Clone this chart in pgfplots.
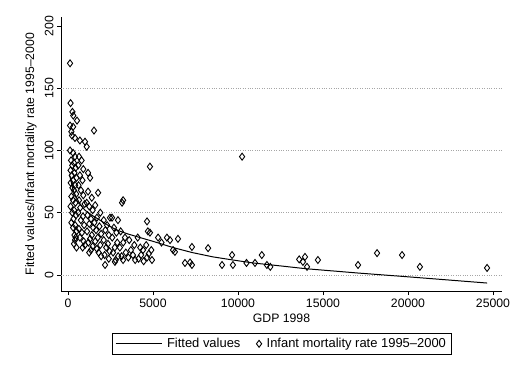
\documentclass[border=0pt]{standalone}
\usepackage{fontspec}
\setmainfont{Liberation Sans}
\usepackage{pgfplots}
\usepackage{pgfplotstable}
\pgfplotsset{compat=1.18}
\pgfplotsset{longline legend/.style={legend image code/.code={\draw[##1] (0bp,0bp) -- (46bp,0bp);}}}
\newcommand\sz{\fontsize{12.3}{14}\selectfont}
\newcommand\lsz{\fontsize{13}{15}\selectfont}
\pgfplotstableread{
gdp fit
100 80
300 68
500 62
750 56
1000 52
1400 48
1880 44
2400 39.5
2880 36
3500 33
4240 30
5000 27
6180 22
7300 18
8530 14.5
9700 12
10900 9.6
12000 8
14000 5
17000 1.6
20000 -1.5
24650 -6.5
}\fitted
\pgfplotstableread{
gdp imr
120 170
150 138
260 131
310 128
530 124
120 120
300 119
200 115
235 112
410 110
120 100
300 98
410 95
180 92
350 90
250 88
450 86
150 84
380 82
220 80
500 78
300 76
160 74
420 72
260 70
350 68
480 65
200 63
300 60
440 58
150 55
360 52
250 50
470 48
320 45
200 42
420 40
300 38
500 35
380 32
450 30
410 28
350 25
500 22
700 108
1000 107
650 95
800 92
600 88
900 85
700 80
850 76
620 72
760 68
900 64
650 60
980 57
720 54
600 50
880 47
760 44
950 40
640 37
820 34
700 30
920 27
1000 24
860 22
1100 103
1180 82
1300 78
1180 67
1400 62
1100 58
1250 55
1450 52
1150 48
1350 45
1250 41
1480 38
1120 35
1400 32
1300 29
1200 26
1450 23
1350 20
1250 18
1530 116
1770 66
1600 56
1900 50
1700 46
1550 42
1850 39
1650 36
1950 33
1750 30
1600 27
1900 24
1700 21
1800 18
1950 15
2470 46
2100 44
2300 40
2200 36
2400 32
2100 28
2350 25
2250 22
2450 19
2150 16
2400 13
2180 8
2940 44
2590 46
2700 38
2850 34
2600 30
2900 26
2750 22
2650 18
2950 15
2760 10.5
2800 12
3240 60
3180 58
3100 35
3350 30
3250 26
3050 22
3400 18
3150 15
3240 12
3600 28
3900 24
3700 20
3820 16
3550 14
3950 12
4100 30
4410 20
4250 22
4300 16
4150 13
4450 11
4820 87
4650 43
4700 35
4820 34
4600 24
4900 20
4750 17
4940 12
4650 14
5300 30
5820 30
6000 28
6470 29
5500 26
6180 20
6290 18.5
7290 22.5
8240 21.5
6880 9.6
7180 10
7290 8
9060 8
9700 8
9650 16
10240 95
10500 9.6
11000 9.6
11400 16
11700 8
11900 6.5
13600 12.5
13820 10.5
13940 14.5
14060 6.5
14700 12
17060 8
18180 17.5
19650 16
20700 6.5
24650 5.6
}\scatterdata
\begin{document}
\begin{tikzpicture}
\useasboundingbox (-61bp,-79bp) rectangle (451bp,291bp);
\begin{axis}[
  at={(0,0)}, anchor=south west,
  scale only axis, width=441bp, height=274bp,
  xmin=-412, xmax=25530, ymin=-12.9, ymax=207.2,
  axis lines=left, axis line style={-, line width=0.9pt},
  xtick={0,5000,...,25000}, ytick={0,50,...,200},
  tick align=outside, major tick length=4bp,
  tick style={black, line width=0.7pt},
  scaled x ticks=false,
  /pgf/number format/assume math mode=true,
  /pgf/number format/set thousands separator={},
  tick label style={font=\sz},
  yticklabel style={rotate=90, anchor=south},
  xlabel={GDP 1998},
  ylabel={Fitted values/Infant mortality rate 1995--2000},
  label style={font=\sz},
  xlabel style={at={(axis description cs:0.5,-0.0985)}, anchor=center},
  ylabel style={at={(axis description cs:-0.068,0.5)}, anchor=center},
  extra y ticks={0,50,100,150},
  extra y tick labels={},
  extra y tick style={ymajorgrids=true, major tick length=0pt,
     major grid style={dotted, gray!70, line width=0.7pt}},
  legend style={at={(axis description cs:0.5,-0.1533)}, anchor=north,
     draw=black, line width=0.7pt, font=\lsz, inner sep=3bp,
     /tikz/every odd column/.append style={column sep=3bp},
     /tikz/every even column/.append style={column sep=14bp}},
  legend columns=2,
  clip=false,
]
\addplot[black, line width=1pt, no marks, longline legend]
  table[x=gdp, y=fit] {\fitted};
\addlegendentry{Fitted values}
\addplot[only marks, mark=diamond, mark size=3.5bp,
  mark options={black, line width=0.9pt, fill=none}]
  table[x=gdp, y=imr] {\scatterdata};
\addlegendentry{Infant mortality rate 1995--2000}
\end{axis}
\end{tikzpicture}
\end{document}
